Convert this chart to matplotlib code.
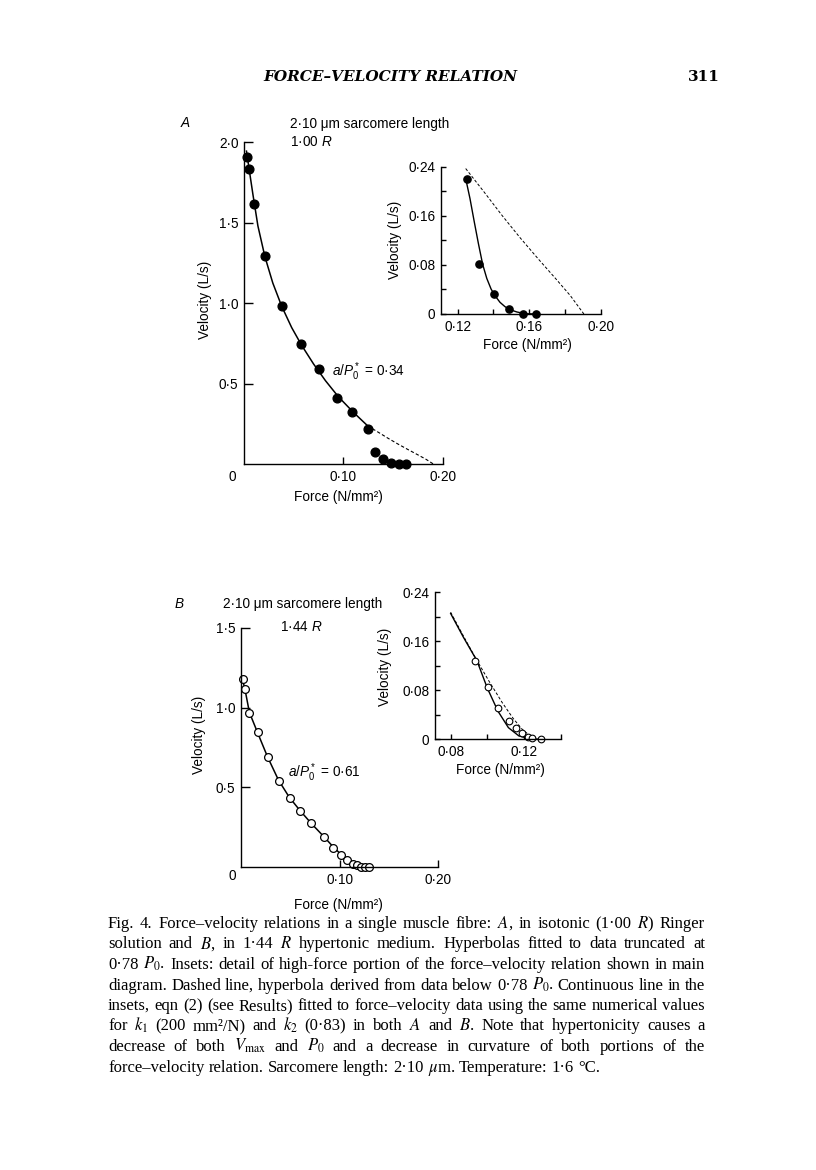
import matplotlib
matplotlib.use('Agg')
import matplotlib.pyplot as plt

# ---------------- data ----------------
# Panel A (1.00 R) main diagram
a_force = [0.0034, 0.0047, 0.0097, 0.0211, 0.0386, 0.0577, 0.0755, 0.0936, 0.109, 0.1245,
           0.1319, 0.1403, 0.148, 0.1557, 0.1634]
a_velocity = [1.911, 1.834, 1.617, 1.293, 0.984, 0.746, 0.591, 0.412, 0.321, 0.216,
              0.075, 0.029, 0.006, 0.0, 0.0]
a_fit_force = [0.0025, 0.005, 0.009, 0.014, 0.021, 0.029, 0.038, 0.048, 0.058, 0.070,
               0.082, 0.095, 0.110, 0.1245]
a_fit_velocity = [1.945, 1.840, 1.675, 1.480, 1.290, 1.125, 0.980, 0.848, 0.738, 0.622,
                  0.518, 0.418, 0.322, 0.237]
a_dash_force = [0.1245, 0.135, 0.145, 0.155, 0.165, 0.175, 0.183, 0.1906]
a_dash_velocity = [0.237, 0.198, 0.160, 0.124, 0.090, 0.057, 0.030, 0.0]
# Panel A inset
a_inset_force = [0.1250, 0.1321, 0.1406, 0.1488, 0.1564, 0.1637]
a_inset_velocity = [0.2197, 0.0808, 0.0331, 0.0087, 0.0005, 0.0]
a_inset_fit_force = [0.1247, 0.1269, 0.1293, 0.1316, 0.1340, 0.1363, 0.1387, 0.1409,
                     0.1437, 0.1465, 0.1493, 0.1531, 0.1578, 0.1643]
a_inset_fit_velocity = [0.2180, 0.1882, 0.1502, 0.1150, 0.0808, 0.0580, 0.0407, 0.0298,
                        0.0190, 0.0119, 0.0071, 0.0033, 0.0005, 0.0]

# Panel B (1.44 R) main diagram
b_force = [0.0024, 0.0041, 0.0084, 0.0172, 0.027, 0.0385, 0.050, 0.060, 0.0713, 0.0838,
           0.0936, 0.1017, 0.1074, 0.1132, 0.1176, 0.1216, 0.126, 0.130]
b_velocity = [1.178, 1.114, 0.963, 0.847, 0.693, 0.543, 0.434, 0.355, 0.275, 0.190,
              0.123, 0.075, 0.046, 0.023, 0.0125, 0.004, 0.0, 0.0]
b_fit_force = [0.001, 0.004, 0.0085, 0.017, 0.027, 0.038, 0.049, 0.060, 0.0715, 0.084,
               0.0936, 0.101, 0.107, 0.113, 0.118, 0.123, 0.1285]
b_fit_velocity = [1.19, 1.115, 0.97, 0.84, 0.69, 0.546, 0.438, 0.354, 0.273, 0.192,
                  0.127, 0.083, 0.053, 0.029, 0.014, 0.004, 0.0]
# Panel B inset
b_inset_force = [0.0935, 0.1004, 0.1060, 0.1116, 0.1153, 0.1187, 0.1220, 0.1245, 0.1290]
b_inset_velocity = [0.1278, 0.0856, 0.0515, 0.0298, 0.0179, 0.0108, 0.0043, 0.0022, 0.0]
b_inset_fit_force = [0.080, 0.087, 0.0943, 0.100, 0.1057, 0.1114, 0.1171, 0.1229, 0.129]
b_inset_fit_velocity = [0.205, 0.166, 0.128, 0.083, 0.046, 0.019, 0.0055, 0.001, 0.0]
b_inset_dash_force = [0.080, 0.087, 0.094, 0.101, 0.108, 0.114, 0.119, 0.1235, 0.1265]
b_inset_dash_velocity = [0.207, 0.168, 0.130, 0.094, 0.060, 0.034, 0.016, 0.005, 0.0]

# tick positions / labels
main_x_ticks = [0.10, 0.20]
main_x_labels = ['0·10', '0·20']
a_y_ticks = [0.5, 1.0, 1.5, 2.0]
a_y_labels = ['0·5', '1·0', '1·5', '2·0']
b_y_ticks = [0.5, 1.0, 1.5]
b_y_labels = ['0·5', '1·0', '1·5']
inset_y_ticks = [0.0, 0.04, 0.08, 0.12, 0.16, 0.20, 0.24]
inset_y_labels = ['0', '', '0·08', '', '0·16', '', '0·24']
a_inset_x_ticks = [0.12, 0.14, 0.16, 0.18, 0.20]
a_inset_x_labels = ['0·12', '', '0·16', '', '0·20']
b_inset_x_ticks = [0.08, 0.10, 0.12, 0.14]
b_inset_x_labels = ['0·08', '', '0·12', '']

caption_lines = [
    "Fig. 4. Force–velocity relations in a single muscle fibre: $A$, in isotonic (1·00 $R$) Ringer",
    "solution and $B$, in 1·44 $R$ hypertonic medium. Hyperbolas fitted to data truncated at",
    "0·78 $P_0$. Insets: detail of high-force portion of the force–velocity relation shown in main",
    "diagram. Dashed line, hyperbola derived from data below 0·78 $P_0$. Continuous line in the",
    "insets, eqn (2) (see Results) fitted to force–velocity data using the same numerical values",
    "for $k_1$ (200 mm²/N) and $k_2$ (0·83) in both $A$ and $B$. Note that hypertonicity causes a",
    "decrease of both $V_{\\mathrm{max}}$ and $P_0$ and a decrease in curvature of both portions of the",
    "force–velocity relation. Sarcomere length: 2·10 $\\mu$m. Temperature: 1·6 °C.",
]

# ---------------- styling ----------------
W, H = 816, 1170
plt.rcParams['font.family'] = ['Liberation Sans', 'DejaVu Sans']
plt.rcParams['mathtext.fontset'] = 'custom'
plt.rcParams['mathtext.rm'] = 'Liberation Sans'
plt.rcParams['mathtext.it'] = 'Liberation Sans:italic'
plt.rcParams['mathtext.bf'] = 'Liberation Sans:bold'

fig = plt.figure(figsize=(W / 100, H / 100), dpi=100)
fig.patch.set_facecolor('white')


def px_axes(l, t, r, b):
    ax = fig.add_axes([l / W, 1 - b / H, (r - l) / W, (b - t) / H])
    ax.patch.set_alpha(0)
    return ax


def ftext(x, y, s, **kw):
    return fig.text(x / W, 1 - y / H, s, **kw)


FS = 9.8


def style(ax, xlim, ylim, xt, xtl, yt, ytl, xlen, ylen, fs=FS):
    ax.set_xlim(xlim)
    ax.set_ylim(ylim)
    for s in ['top', 'right']:
        ax.spines[s].set_visible(False)
    for s in ['left', 'bottom']:
        ax.spines[s].set_linewidth(1.0)
    ax.set_xticks(xt, xtl)
    ax.set_yticks(yt, ytl)
    ax.tick_params(axis='x', direction='in', length=xlen, width=1.0, pad=4, labelsize=fs)
    ax.tick_params(axis='y', direction='in', length=ylen, width=1.0, pad=4, labelsize=fs)


# ---- Panel A main ----
axA = px_axes(244, 142.3, 442.7, 464)
style(axA, (0, 0.20), (0, 2.0), main_x_ticks, main_x_labels, a_y_ticks, a_y_labels, 5, 6.5)
axA.plot(a_fit_force, a_fit_velocity, color='black', lw=1.1)
axA.plot(a_dash_force, a_dash_velocity, color='black', lw=0.8, dashes=(3, 2))
axA.plot(a_force, a_velocity, 'o', ms=6.3, mfc='black', mec='black', clip_on=False)

# ---- Panel A inset ----
axAi = px_axes(441, 166.7, 600.7, 314)
style(axAi, (0.1107, 0.20), (0, 0.24), a_inset_x_ticks, a_inset_x_labels,
      inset_y_ticks, inset_y_labels, 3.6, 3.6)
axAi.plot(a_inset_fit_force, a_inset_fit_velocity, color='black', lw=1.0)
axAi.plot(a_dash_force, a_dash_velocity, color='black', lw=0.7, dashes=(3, 2))
axAi.plot(a_inset_force, a_inset_velocity, 'o', ms=5.2, mfc='black', mec='black', clip_on=False)

# ---- Panel B main ----
axB = px_axes(241, 627.7, 438.3, 867.3)
style(axB, (0, 0.20), (0, 1.5), main_x_ticks, main_x_labels, b_y_ticks, b_y_labels, 5, 6.5)
axB.plot(b_fit_force, b_fit_velocity, color='black', lw=1.1)
axB.plot(b_force, b_velocity, 'o', ms=5.6, mfc='white', mec='black', mew=0.9, clip_on=False)

# ---- Panel B inset ----
axBi = px_axes(435, 592, 561, 739.3)
style(axBi, (0.0715, 0.14), (0, 0.24), b_inset_x_ticks, b_inset_x_labels,
      inset_y_ticks, inset_y_labels, 3.6, 3.6)
axBi.plot(b_inset_fit_force, b_inset_fit_velocity, color='black', lw=1.0)
axBi.plot(b_inset_dash_force, b_inset_dash_velocity, color='black', lw=0.7, dashes=(3, 2))
axBi.plot(b_inset_force, b_inset_velocity, 'o', ms=4.8, mfc='white', mec='black', mew=0.8,
          clip_on=False)

# ---- panel texts ----
ftext(185, 123, 'A', fontsize=FS, style='italic', ha='center', va='center')
ftext(290, 124, '2·10 μm sarcomere length', fontsize=FS, ha='left', va='center')
ftext(290, 141.7, '1·00 $R$', fontsize=FS, ha='left', va='center')
ftext(331.7, 371.7, '$a/P_0^*$ = 0·34', fontsize=FS, ha='left', va='center')
ftext(205, 300, 'Velocity (L/s)', fontsize=FS, rotation=90, ha='center', va='center')
ftext(338, 497, 'Force (N/mm²)', fontsize=FS, ha='center', va='center')
ftext(232, 477, '0', fontsize=FS, ha='center', va='center')
ftext(395, 240, 'Velocity (L/s)', fontsize=FS, rotation=90, ha='center', va='center')
ftext(527, 345, 'Force (N/mm²)', fontsize=FS, ha='center', va='center')

ftext(179, 604, 'B', fontsize=FS, style='italic', ha='center', va='center')
ftext(223, 604, '2·10 μm sarcomere length', fontsize=FS, ha='left', va='center')
ftext(280, 627, '1·44 $R$', fontsize=FS, ha='left', va='center')
ftext(288, 773, '$a/P_0^*$ = 0·61', fontsize=FS, ha='left', va='center')
ftext(199, 735, 'Velocity (L/s)', fontsize=FS, rotation=90, ha='center', va='center')
ftext(338, 905, 'Force (N/mm²)', fontsize=FS, ha='center', va='center')
ftext(232, 876, '0', fontsize=FS, ha='center', va='center')
ftext(385, 667, 'Velocity (L/s)', fontsize=FS, rotation=90, ha='center', va='center')
ftext(500, 770, 'Force (N/mm²)', fontsize=FS, ha='center', va='center')

# ---- page header ----
ftext(390, 77, 'FORCE–VELOCITY RELATION', family='DejaVu Serif', fontsize=11,
      weight='bold', style='italic', ha='center', va='center')
ftext(720, 77, '311', family='DejaVu Serif', fontsize=11, weight='bold', ha='right', va='center')

# ---- justified caption ----
renderer = fig.canvas.get_renderer()
cap_left, cap_right = 108, 705
cap_base0, cap_step = 928, 20.5
cap_kw = dict(family='Liberation Serif', math_fontfamily='stix', ha='left', va='baseline')


def measure(s, fs):
    t = fig.text(0, 0, s, fontsize=fs, **cap_kw)
    w = t.get_window_extent(renderer).width
    t.remove()
    return w


cap_fs = 12.0
for _ in range(8):
    sp = measure('a a', cap_fs) - measure('aa', cap_fs)
    worst = 0
    for line in caption_lines[:-1]:
        words = line.split(' ')
        nat = sum(measure(w, cap_fs) for w in words) + sp * (len(words) - 1)
        worst = max(worst, nat)
    if worst <= cap_right - cap_left:
        break
    cap_fs *= (cap_right - cap_left) / worst * 0.995

sp = measure('a a', cap_fs) - measure('aa', cap_fs)
for i, line in enumerate(caption_lines):
    words = line.split(' ')
    y = cap_base0 + i * cap_step
    objs = [ftext(0, y, w, fontsize=cap_fs, **cap_kw) for w in words]
    widths = [o.get_window_extent(renderer).width for o in objs]
    if i < len(caption_lines) - 1:
        gap = (cap_right - cap_left - sum(widths)) / (len(words) - 1)
    else:
        gap = sp
    x = cap_left
    for o, w in zip(objs, widths):
        o.set_x(x / W)
        x += w + gap

fig.savefig('out.png', dpi=100, facecolor='white')
